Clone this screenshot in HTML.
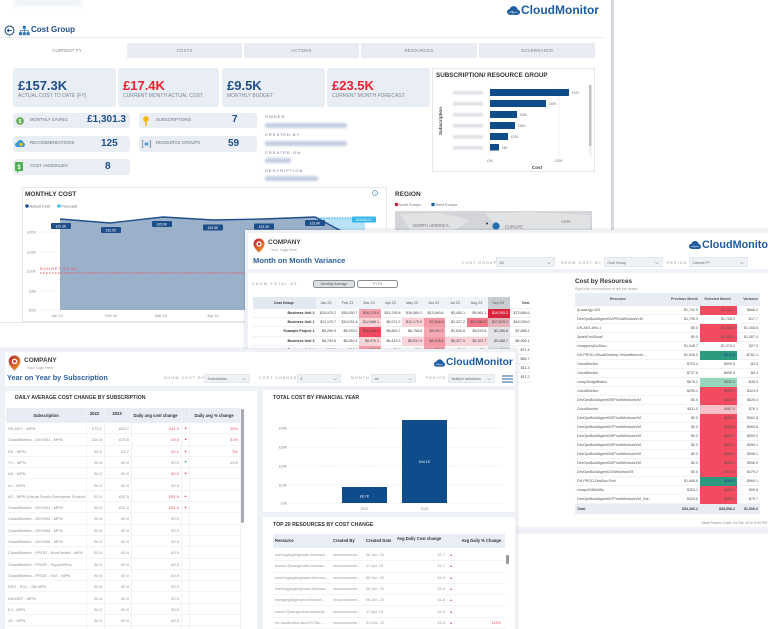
<!DOCTYPE html>
<html><head><meta charset="utf-8">
<style>
*{margin:0;padding:0;box-sizing:border-box}
html,body{width:768px;height:629px;overflow:hidden;background:#fff}
body{position:relative;font-family:"Liberation Sans","DejaVu Sans",sans-serif;color:#333}
.a{position:absolute}
.t{position:absolute;white-space:nowrap;line-height:1}
.card{position:absolute;background:#e9eef5;border-radius:3px}
.tab{position:absolute;top:43px;height:15px;background:#e9edf3;font-size:4.3px;color:#7b8390;text-align:center;line-height:15px;letter-spacing:.2px}
.kv{position:absolute;left:5px;top:11px;font-size:13px;font-weight:bold;line-height:1;white-space:nowrap}
.kl{position:absolute;left:5px;top:26px;font-size:5px;color:#7d8592;line-height:1;white-space:nowrap}
.sl{position:absolute;left:17px;top:5px;font-size:4.3px;color:#6d7480;white-space:nowrap;line-height:1}
.sv{position:absolute;top:2.2px;font-size:10px;font-weight:bold;color:#1f4e8c;line-height:1;white-space:nowrap}
.ol{position:absolute;left:265px;font-size:4px;color:#6d7480;letter-spacing:1px;line-height:1;white-space:nowrap}
.ob{position:absolute;left:265px;height:5px;background:#c3cfe2;border-radius:2px;filter:blur(1px)}
.logo{position:absolute;display:flex;align-items:center;font-weight:bold;color:#1d5c9f;line-height:1;white-space:nowrap}
.logo svg{margin-right:1px;flex:none}
.fl{position:absolute;font-size:3.6px;color:#8a9099;letter-spacing:1.1px;line-height:1;white-space:nowrap}
.dd{position:absolute;height:10px;background:#eef1f5;font-size:3.6px;color:#666;line-height:10px;padding-left:2.5px;white-space:nowrap;border:0.5px solid #e3e6ea}
.dd svg{position:absolute;right:3px;top:3.5px}
.mr{position:absolute;left:253px;width:278px;height:9.2px;display:flex;font-size:3.6px;color:#444;box-shadow:inset 0 -0.6px 0 #e3e6ea}
.mr span{width:21.5px;flex:none;text-align:right;padding-right:1.5px;line-height:9.2px;overflow:hidden;white-space:nowrap}
.mr span:first-child{width:63px;font-weight:bold;color:#333}
.rr{position:absolute;left:575px;width:185px;height:9px;display:flex;font-size:3.6px;color:#555;box-shadow:inset 0 -0.6px 0 #e6e9ed}
.rr span{flex:none;line-height:9px;overflow:hidden;white-space:nowrap;text-align:right;padding-right:2px}
.rr span:nth-child(1){width:86px;text-align:left;padding-left:2px}
.rr span:nth-child(2){width:39px}
.rr span:nth-child(3){width:37px}
.rr span:nth-child(4){width:23px}
.r3{position:absolute;left:6px;width:235px;height:11.3px;display:flex;font-size:4px;color:#8a8f96;box-shadow:inset 0 -0.7px 0 #edf0f3}
.r3 span{flex:none;line-height:11.3px;overflow:hidden;white-space:nowrap;text-align:right;padding-right:2px;border-right:0.6px solid #f0f2f4}
.c1{width:81px;text-align:left!important;padding-left:2px}
.c2{width:18px}.c3{width:27px}.c4{width:50px}.c5{width:8px;text-align:center!important;padding:0!important;font-size:3.4px}.c6{width:51px}
.rd{color:#e4505f}.gn{color:#3aa54a}
.r4{position:absolute;left:273px;width:232px;height:11.3px;display:flex;font-size:3.8px;color:#999;box-shadow:inset 0 -0.7px 0 #eef0f3}
.r4 span{flex:none;line-height:11.3px;overflow:hidden;white-space:nowrap;padding-left:2px}
.d1{width:58px}.d2{width:33px}.d3{width:31px}.d4{width:52px;text-align:right;padding-right:2px}.d5{width:8px;text-align:center;padding:0!important;color:#e4505f;font-size:3.4px}.d6{width:50px;text-align:right;padding-right:4px}
</style></head><body>

<!-- ===================== LAYER 1 : COST GROUP ===================== -->
<div class="a" style="left:14px;top:0;width:68px;height:6px;background:#eef1f4;filter:blur(1.5px)"></div>
<svg class="a" style="left:4px;top:25px" width="26" height="11" viewBox="0 0 26 11">
 <circle cx="5.5" cy="5.5" r="4.4" fill="none" stroke="#1f4e8c" stroke-width="1.1"/>
 <path d="M7.8 5.5H3.4M5 3.8L3.3 5.5L5 7.2" stroke="#1f4e8c" stroke-width="0.9" fill="none"/>
 <rect x="18.8" y="0.8" width="3" height="3" fill="#2a6fb8"/>
 <rect x="15" y="7.2" width="3" height="3" fill="#2a6fb8"/>
 <rect x="18.8" y="7.2" width="3" height="3" fill="#2a6fb8"/>
 <rect x="22.6" y="7.2" width="3" height="3" fill="#2a6fb8"/>
 <path d="M20.3 3.8V5.5M16.5 7.2V5.5H24.1V7.2M20.3 5.5V7.2" stroke="#2a6fb8" stroke-width="0.7" fill="none"/>
</svg>
<div class="t" style="left:31px;top:26px;font-size:8px;font-weight:bold;color:#1f4e8c">Cost Group</div>

<div class="logo" style="left:507px;top:4px;font-size:12px">
 <svg width="13" height="9" viewBox="0 0 12 8"><path d="M3 8C1.3 8 0 6.8 0 5.3 0 3.9 1.1 2.8 2.5 2.7 3 1.1 4.4 0 6.1 0c1.9 0 3.4 1.3 3.7 3.1C11 3.3 12 4.3 12 5.6 12 6.9 10.9 8 9.5 8z" fill="#1d5c9f"/><path d="M2 5.5h2l.7-1 .8 2 .7-1h3.5" stroke="#fff" stroke-width=".5" fill="none"/></svg>CloudMonitor</div>

<div class="a" style="left:0;top:37px;width:604px;height:0;border-top:1px dotted #d5dae1"></div>

<div class="tab" style="left:9px;width:116px;background:#fff">CURRENT FY</div>
<div class="tab" style="left:127px;width:115px">COSTS</div>
<div class="tab" style="left:244px;width:115px">ACTIONS</div>
<div class="tab" style="left:361px;width:116px">RESOURCES</div>
<div class="tab" style="left:479px;width:116px">GOVERNANCE</div>

<!-- KPI cards -->
<div class="card" style="left:13px;top:68px;width:103px;height:39px"><div class="kv" style="color:#1f4e8c">£157.3K</div><div class="kl">ACTUAL COST TO DATE (FY)</div></div>
<div class="card" style="left:118px;top:68px;width:101px;height:39px"><div class="kv" style="color:#e8232e">£17.4K</div><div class="kl">CURRENT MONTH ACTUAL COST</div></div>
<div class="card" style="left:222px;top:68px;width:103px;height:39px"><div class="kv" style="color:#1f4e8c">£9.5K</div><div class="kl">MONTHLY BUDGET</div></div>
<div class="card" style="left:327px;top:68px;width:103px;height:39px;overflow:hidden"><div class="kv" style="color:#e8232e">£23.5K</div><div class="kl">CURRENT MONTH FORECAST</div></div>

<!-- small cards -->
<div class="card" style="left:13px;top:113px;width:117px;height:15px">
 <svg class="a" style="left:3px;top:3.5px" width="8" height="8" viewBox="0 0 8 8"><circle cx="4" cy="4" r="3.8" fill="#5aa64a"/><text x="4" y="6" font-size="5.5" font-weight="bold" fill="#fff" text-anchor="middle" font-family="Liberation Sans">$</text></svg>
 <div class="sl">MONTHLY SAVING</div><div class="sv" style="right:4px">£1,301.3</div></div>
<div class="card" style="left:139px;top:113px;width:118px;height:15px">
 <svg class="a" style="left:4px;top:2.5px" width="6" height="10" viewBox="0 0 6 10"><circle cx="3" cy="3" r="2.8" fill="#f2b705"/><rect x="2.2" y="5" width="1.6" height="5" fill="#f2b705"/></svg>
 <div class="sl">SUBSCRIPTIONS</div><div class="sv" style="left:93px">7</div></div>
<div class="card" style="left:13px;top:136px;width:117px;height:16px">
 <svg class="a" style="left:2px;top:4px" width="10" height="8" viewBox="0 0 10 8"><path d="M2.5 7C1.1 7 0 6 0 4.7 0 3.5 1 2.5 2.2 2.4 2.6 1 3.8 0 5.3 0 7 0 8.3 1.2 8.5 2.8 9.4 3 10 3.9 10 4.9 10 6 9.1 7 7.9 7z" fill="#3a9ad9"/><circle cx="6" cy="4.5" r="1.6" fill="#f2c200"/></svg>
 <div class="sl">RECOMMENDATIONS</div><div class="sv" style="left:88px;top:2.7px">125</div></div>
<div class="card" style="left:139px;top:136px;width:118px;height:16px">
 <svg class="a" style="left:3px;top:4px" width="9" height="8" viewBox="0 0 9 8"><path d="M1.5 0.5H0.5V7.5H1.5M7.5 0.5H8.5V7.5H7.5" stroke="#7a8699" stroke-width="0.8" fill="none"/><rect x="2.6" y="2.5" width="3.8" height="3" fill="#4aa3df"/></svg>
 <div class="sl">RESOURCE GROUPS</div><div class="sv" style="left:89px;top:2.7px">59</div></div>
<div class="card" style="left:13px;top:159px;width:117px;height:16px">
 <svg class="a" style="left:2px;top:2.5px" width="8" height="11" viewBox="0 0 8 11"><rect x="0" y="0" width="8" height="9" rx="1" fill="#4caf50"/><path d="M2 9L2 11L4 9Z" fill="#4caf50"/><text x="4" y="7" font-size="6" font-weight="bold" fill="#fff" text-anchor="middle" font-family="Liberation Sans">$</text></svg>
 <div class="sl">COST ANOMALIES</div><div class="sv" style="left:92px;top:2.7px">8</div></div>

<!-- owner -->
<div class="ol" style="top:115.3px">OWNER</div>
<div class="ob" style="top:122.5px;width:82px"></div>
<div class="ol" style="top:133.3px">CREATED BY</div>
<div class="ob" style="top:140.5px;width:82px"></div>
<div class="ol" style="top:151.3px">CREATED ON</div>
<div class="ob" style="top:158px;width:26px"></div>
<div class="ol" style="top:169.3px">DESCRIPTION</div>
<div class="ob" style="top:176px;width:53px"></div>

<!-- layer 1 charts -->
<svg class="a" style="left:0;top:0" width="612" height="325" viewBox="0 0 612 325" font-family="Liberation Sans, sans-serif">
 <!-- subscription chart -->
 <rect x="432.5" y="68.5" width="162" height="103" fill="#fff" stroke="#dfe2e6" stroke-width="0.8"/>
 <text x="436" y="77" font-size="6.3" font-weight="bold" fill="#333">SUBSCRIPTION/ RESOURCE GROUP</text>
 <text transform="translate(442 121) rotate(-90)" font-size="4.6" font-weight="bold" fill="#444" text-anchor="middle">Subscription</text>
 <g fill="#dde1e6" style="filter:blur(0.8px)">
  <rect x="453" y="91" width="30" height="3.5"/><rect x="453" y="102" width="30" height="3.5"/><rect x="453" y="113" width="30" height="3.5"/>
  <rect x="453" y="124" width="30" height="3.5"/><rect x="453" y="135" width="30" height="3.5"/><rect x="453" y="146" width="30" height="3.5"/>
 </g>
 <line x1="490" y1="86" x2="490" y2="155" stroke="#ccc" stroke-width="0.5" stroke-dasharray="1 1"/>
 <line x1="559" y1="86" x2="559" y2="155" stroke="#ccc" stroke-width="0.5" stroke-dasharray="1 1"/>
 <g fill="#0f4c8a">
  <rect x="490" y="89" width="79" height="7"/><rect x="490" y="100" width="56" height="7"/><rect x="490" y="111" width="27" height="7"/>
  <rect x="490" y="122" width="25" height="7"/><rect x="490" y="133" width="18" height="7"/><rect x="490" y="144" width="9" height="6.5"/>
 </g>
 <g font-size="3.2" fill="#777">
  <text x="572" y="94">£57K</text><text x="549" y="105">£40K</text><text x="520" y="116">£20K</text>
  <text x="518" y="127">£18K</text><text x="511" y="138">£13K</text><text x="502" y="149">£6K</text>
  <text x="490" y="162" text-anchor="middle">£0K</text><text x="559" y="162" text-anchor="middle">£50K</text>
 </g>
 <text x="537" y="169" font-size="4.6" font-weight="bold" fill="#444" text-anchor="middle">Cost</text>
 <rect x="589" y="85" width="2.5" height="71" fill="#eef0f2"/>
 <rect x="589" y="85" width="2.5" height="61" fill="#bcc0c5"/>

 <!-- monthly cost card -->
 <rect x="22.5" y="187.5" width="364" height="134" fill="#fff" stroke="#e1e4e8" stroke-width="0.8"/>
 <text x="25" y="196" font-size="6.5" font-weight="bold" fill="#333">MONTHLY COST</text>
 <circle cx="375" cy="193" r="2.4" fill="none" stroke="#3a78c0" stroke-width="0.6"/>
 <text x="375" y="194.6" font-size="3.5" fill="#3a78c0" text-anchor="middle">i</text>
 <circle cx="27" cy="206" r="1.8" fill="#1f4e8c"/><text x="29.5" y="207.5" font-size="4" fill="#666">Actual Cost</text>
 <circle cx="59" cy="206" r="1.8" fill="#3fc0f0"/><text x="61.5" y="207.5" font-size="4" fill="#666">Forecast</text>
 <g stroke="#c5c9cf" stroke-width="0.6" stroke-dasharray="1 1.5">
  <line x1="40" y1="232" x2="382" y2="232"/><line x1="40" y1="252" x2="382" y2="252"/>
  <line x1="40" y1="291" x2="382" y2="291"/><line x1="40" y1="310" x2="382" y2="310"/>
 </g>
 <g font-size="3.8" fill="#888" text-anchor="end">
  <text x="36" y="233.5">£20K</text><text x="36" y="253.5">£15K</text><text x="36" y="272.5">£10K</text><text x="36" y="292.5">£5K</text><text x="36" y="311.5">£0K</text>
 </g>
 <rect x="315" y="218" width="50" height="92" fill="#b9e2f7"/>
 <line x1="315" y1="218" x2="356" y2="218" stroke="#3fb6ec" stroke-width="1.2" stroke-dasharray="1.5 1.2"/>
 <polygon points="60,219 110,223 163,217 213,220 263,219 315,217 345,233 345,310 60,310" fill="#9bb1ca"/>
 <polyline points="60,219 110,223 163,217 213,220 263,219 315,217 345,233" fill="none" stroke="#1f4e8c" stroke-width="1.4"/>
 <line x1="40" y1="273" x2="385" y2="273" stroke="#e8505f" stroke-width="1" stroke-dasharray="1.5 1.5"/>
 <text x="40" y="270" font-size="4" fill="#e8505f" letter-spacing="0.8">BUDGET £9.5K</text>
 <g font-size="3.8" fill="#888" text-anchor="middle">
  <text x="57" y="317">Jan 24</text><text x="111" y="317">Feb 24</text><text x="161" y="317">Mar 24</text><text x="213" y="317">Apr 24</text>
 </g>
 <g fill="#1d4f8a">
  <rect x="51" y="223" width="20" height="6" rx="1"/><rect x="101" y="227" width="20" height="6" rx="1"/><rect x="152" y="221" width="20" height="6" rx="1"/>
  <rect x="203" y="224.5" width="20" height="6" rx="1"/><rect x="254" y="223.5" width="20" height="6" rx="1"/><rect x="305" y="220" width="20" height="6" rx="1"/>
 </g>
 <rect x="352" y="216.5" width="24" height="6" rx="1" fill="#3ab8ee"/>
 <g font-size="3.3" fill="#fff" text-anchor="middle">
  <text x="61" y="227.3">£22.3K</text><text x="111" y="231.3">£22.5K</text><text x="162" y="225.3">£23.9K</text>
  <text x="213" y="228.8">£22.8K</text><text x="264" y="227.8">£23.3K</text><text x="315" y="224.3">£23.9K</text>
  <text x="364" y="220.8">£24.6/17.1</text>
 </g>

 <!-- region -->
 <text x="395" y="196" font-size="6.5" font-weight="bold" fill="#333">REGION</text>
 <circle cx="396.5" cy="204.5" r="1.8" fill="#c0283a"/><text x="398.8" y="206" font-size="3.8" fill="#777">North Europe</text>
 <circle cx="433" cy="204.5" r="1.8" fill="#1f5fa0"/><text x="435.5" y="206" font-size="3.8" fill="#777">West Europe</text>
 <rect x="395" y="211" width="197" height="25" fill="#d3d5d8"/>
 <path d="M400 214 L440 213 L470 220 L455 230 L410 230 Z" fill="#e1e2e4"/>
 <path d="M485 213 L530 212 L590 215 L590 230 L500 230 Z" fill="#e1e2e4"/>
 <text x="413" y="227" font-size="4.3" fill="#777">NORTH AMERICA</text>
 <text x="505" y="228.5" font-size="4.3" fill="#777">EUROPE</text>
 <text x="561" y="223" font-size="4.3" fill="#777">ASIA</text>
 <circle cx="496" cy="226" r="3.6" fill="#1f6fb3"/>
 <circle cx="487" cy="223.5" r="1" fill="#333"/>

 <line x1="0" y1="322.5" x2="612" y2="322.5" stroke="#e3e6ea" stroke-width="1"/>
</svg>
<div class="a" style="left:611px;top:0;width:3px;height:231px;background:#d6d9dd"></div>

<!-- ===================== LAYER 2 : MONTH ON MONTH ===================== -->
<div class="a" style="left:245px;top:230px;width:523px;height:302px;background:#eef1f5;box-shadow:0 0 3px rgba(0,0,0,.18)"></div>
<div class="a" style="left:248px;top:233px;width:520px;height:36px;background:#fff"></div>
<div class="a" style="left:248px;top:273px;width:520px;height:254px;background:#fff"></div>

<svg class="a" style="left:253px;top:238px" width="12" height="15" viewBox="0 0 12 15"><defs><linearGradient id="pg1" x1="0" y1="0" x2="1" y2="1"><stop offset="0" stop-color="#b81d3a"/><stop offset="1" stop-color="#f4a020"/></linearGradient></defs><path d="M6 0.5C2.9 0.5 0.5 2.9 0.5 6c0 3.5 4 7.3 5.5 8.5 1.5-1.2 5.5-5 5.5-8.5C11.5 2.9 9.1 0.5 6 0.5z" fill="url(#pg1)"/><circle cx="6" cy="6" r="2.6" fill="#fff"/><circle cx="6" cy="6" r="1.3" fill="#c52a3a"/></svg>
<div class="t" style="left:268px;top:240px;font-size:6.5px;font-weight:bold;color:#404040">COMPANY</div>
<div class="t" style="left:271px;top:249px;font-size:3.8px;color:#999">Your Logo here</div>
<div class="t" style="left:253px;top:257px;font-size:7.6px;font-weight:bold;color:#2b5f9c">Month on Month Variance</div>

<div class="fl" style="left:462px;top:261.5px">COST GROUP</div>
<div class="dd" style="left:496px;top:257px;width:59px">All<svg width="4" height="3"><path d="M0.3 0.3L2 2L3.7 0.3" stroke="#888" stroke-width=".5" fill="none"/></svg></div>
<div class="fl" style="left:561px;top:261.5px">SHOW COST BY</div>
<div class="dd" style="left:604px;top:257px;width:59px">Cost Group<svg width="4" height="3"><path d="M0.3 0.3L2 2L3.7 0.3" stroke="#888" stroke-width=".5" fill="none"/></svg></div>
<div class="fl" style="left:667px;top:261.5px">PERIOD</div>
<div class="dd" style="left:689px;top:257px;width:59px">Current FY<svg width="4" height="3"><path d="M0.3 0.3L2 2L3.7 0.3" stroke="#888" stroke-width=".5" fill="none"/></svg></div>

<div class="logo" style="left:689px;top:240px;font-size:10.8px">
 <svg width="12" height="8" viewBox="0 0 12 8"><path d="M3 8C1.3 8 0 6.8 0 5.3 0 3.9 1.1 2.8 2.5 2.7 3 1.1 4.4 0 6.1 0c1.9 0 3.4 1.3 3.7 3.1C11 3.3 12 4.3 12 5.6 12 6.9 10.9 8 9.5 8z" fill="#1d5c9f"/><path d="M2 5.5h2l.7-1 .8 2 .7-1h3.5" stroke="#fff" stroke-width=".5" fill="none"/></svg>CloudMonitor</div>

<div class="fl" style="left:252px;top:282.5px;letter-spacing:1.3px">SHOW TOTAL AS</div>
<div class="a" style="left:313px;top:280px;width:42px;height:8px;background:#dcdfe3;border:0.7px solid #8a8f96;border-radius:2.5px;font-size:3.6px;color:#555;text-align:center;line-height:6.6px">Monthly Average</div>
<div class="a" style="left:357px;top:280px;width:41px;height:8px;background:#fff;border:0.7px solid #8a8f96;border-radius:2.5px;font-size:3.6px;color:#777;text-align:center;line-height:6.6px">FYTD</div>

<!-- month table -->
<div class="mr" style="top:297px;height:12px;font-weight:bold;color:#555">
 <span style="text-align:center;background:#e3e9f2;line-height:12px">Cost Group</span>
 <span style="text-align:center;background:#eff2f6;line-height:12px;font-weight:normal">Jan 23</span>
 <span style="text-align:center;background:#eff2f6;line-height:12px;font-weight:normal">Feb 23</span>
 <span style="text-align:center;background:#eff2f6;line-height:12px;font-weight:normal">Mar 23</span>
 <span style="text-align:center;background:#eff2f6;line-height:12px;font-weight:normal">Apr 23</span>
 <span style="text-align:center;background:#eff2f6;line-height:12px;font-weight:normal">May 23</span>
 <span style="text-align:center;background:#eff2f6;line-height:12px;font-weight:normal">Jun 23</span>
 <span style="text-align:center;background:#eff2f6;line-height:12px;font-weight:normal">Jul 23</span>
 <span style="text-align:center;background:#eff2f6;line-height:12px;font-weight:normal">Aug 23</span>
 <span style="text-align:center;background:#c9cdd2;line-height:12px;font-weight:normal">Sep 23</span>
 <span style="line-height:12px">Total</span>
</div>
<div class="mr" style="top:309px"><span>Business Unit 2</span><span>$15,970.2</span><span>$16,930.7</span><span style="background:#f5a3ae">$16,170.0</span><span>$15,790.8</span><span>$16,069.2</span><span>$13,949.6</span><span>$5,450.1</span><span>$5,961.1</span><span style="background:#d9263e;color:#fff">$19,000.2</span><span>$73,656.6</span></div>
<div class="mr" style="top:318.2px"><span>Business Unit 1</span><span>$11,170.7</span><span>$10,031.6</span><span style="background:#fbd3d8">$12,688.1</span><span>$8,971.2</span><span style="background:#fbd3d8">$10,175.9</span><span style="background:#f49aa6">$7,816.8</span><span>$2,327.2</span><span style="background:#f27a8a">$10,263.2</span><span style="background:#e5b3ba">$17,878.2</span><span>$18,299.0</span></div>
<div class="mr" style="top:327.4px"><span>Example Project 1</span><span>$8,269.9</span><span>$6,976.2</span><span style="background:#ef4b60">$10,154.0</span><span>$6,852.7</span><span>$6,756.8</span><span style="background:#f6a9b2">$9,920.7</span><span>$1,530.6</span><span>$5,676.6</span><span style="background:#e2e4e7">$3,266.8</span><span>$7,698.2</span></div>
<div class="mr" style="top:336.6px"><span>Business Unit 3</span><span>$6,793.6</span><span>$6,040.4</span><span style="background:#fbd3d8">$6,976.1</span><span>$6,415.3</span><span style="background:#fbd3d8">$6,531.9</span><span style="background:#f49aa6">$8,105.6</span><span style="background:#fbd3d8">$6,427.9</span><span style="background:#fbd3d8">$5,357.7</span><span style="background:#e2e4e7">$5,088.7</span><span>$6,905.1</span></div>
<div class="mr" style="top:345.8px"><span>Business Unit 4</span><span>$12.0</span><span>$10.4</span><span style="background:#f5a3ae">$18.2</span><span>$9.1</span><span>$8.4</span><span style="background:#f5a3ae">$14.3</span><span>$6.2</span><span>$5.1</span><span style="background:#e2e4e7">$4.0</span><span>$71.4</span></div>
<div class="mr" style="top:355px"><span>Project 2</span><span>$9.0</span><span>$8.4</span><span>$7.2</span><span>$8.1</span><span>$6.0</span><span>$7.4</span><span>$5.9</span><span>$6.1</span><span style="background:#e2e4e7">$3.2</span><span>$65.7</span></div>
<div class="mr" style="top:364.2px"><span>Project 3</span><span>$1.2</span><span>$1.1</span><span>$1.4</span><span>$1.3</span><span>$1.2</span><span>$1.0</span><span>$1.3</span><span>$1.1</span><span style="background:#e2e4e7">$0.9</span><span>$11.3</span></div>
<div class="mr" style="top:373.4px"><span>Project 4</span><span>$1.2</span><span>$1.1</span><span>$1.4</span><span>$1.3</span><span>$1.2</span><span>$1.0</span><span>$1.3</span><span>$1.1</span><span style="background:#e2e4e7">$0.9</span><span>$11.2</span></div>

<!-- resources table -->
<div class="t" style="left:575px;top:279px;font-size:6.3px;font-weight:bold;color:#333">Cost by Resources</div>
<div class="t" style="left:575px;top:288px;font-size:3.3px;color:#999">Right click on a resource to drill into details</div>
<div class="rr" style="top:293px;height:13px;background:#e8edf4;font-weight:bold;color:#555">
 <span style="text-align:center;line-height:13px">Resource</span><span style="line-height:13px">Previous Month</span><span style="line-height:13px;text-align:center">Selected Month</span><span style="line-height:13px">Variance</span></div>
<div class="rr" style="top:306px"><span>ip-aaa-tgp-002</span><span>$1,702.9</span><span style="background:#f24a5e">$2,733.2</span><span>$668.2</span></div>
<div class="rr" style="top:315px"><span>DevOpsBuildAgent00APRodWindowsVM</span><span>$1,709.9</span><span>$1,708.2</span><span>-$17.7</span></div>
<div class="rr" style="top:324px"><span>DH-AKS-Win-1</span><span>$0.0</span><span style="background:#f24a5e">$1,268.8</span><span>$1,268.8</span></div>
<div class="rr" style="top:333px"><span>SparkPoolSmall</span><span>$0.0</span><span style="background:#f24a5e">$1,087.4</span><span>$1,087.4</span></div>
<div class="rr" style="top:342px"><span>cmapycnoj2o3iksu</span><span>$1,048.7</span><span>$1,076.2</span><span>$27.5</span></div>
<div class="rr" style="top:351px"><span>DH-PROD-VirtualDesktop-VirtualNetwork-...</span><span>$1,638.9</span><span style="background:#2c9a7f;color:#1f3f8c">$876.8</span><span>-$762.1</span></div>
<div class="rr" style="top:360px"><span>CloudMonitor</span><span>$703.4</span><span>$699.5</span><span>-$3.9</span></div>
<div class="rr" style="top:369px"><span>CloudMonitor</span><span>$707.8</span><span>$698.5</span><span>-$9.4</span></div>
<div class="rr" style="top:378px"><span>cmay33otgoifbalsu</span><span>$678.2</span><span style="background:#98d6bb">$639.3</span><span>-$38.9</span></div>
<div class="rr" style="top:387px"><span>CloudMonitor</span><span>$295.1</span><span style="background:#f24a5e">$620.0</span><span>$324.9</span></div>
<div class="rr" style="top:396px"><span>DevOpsBuildAgent005ProdWindowsVM</span><span>$0.0</span><span style="background:#f24a5e">$626.4</span><span>$626.4</span></div>
<div class="rr" style="top:405px"><span>CloudMonitor</span><span>$411.0</span><span style="background:#f9c2c9">$487.3</span><span>$76.3</span></div>
<div class="rr" style="top:414px"><span>DevOpsBuildAgent003ProdWindowsVM</span><span>$0.0</span><span style="background:#f24a5e">$562.8</span><span>$562.8</span></div>
<div class="rr" style="top:423px"><span>DevOpsBuildAgent007ProdWindowsVM</span><span>$0.0</span><span style="background:#f24a5e">$560.8</span><span>$560.8</span></div>
<div class="rr" style="top:432px"><span>DevOpsBuildAgent008ProdWindowsVM</span><span>$0.0</span><span style="background:#f24a5e">$559.2</span><span>$559.2</span></div>
<div class="rr" style="top:441px"><span>DevOpsBuildAgent009ProdWindowsVM</span><span>$0.0</span><span style="background:#f24a5e">$559.1</span><span>$559.1</span></div>
<div class="rr" style="top:450px"><span>DevOpsBuildAgent004ProdWindowsVM</span><span>$0.0</span><span style="background:#f24a5e">$558.1</span><span>$558.1</span></div>
<div class="rr" style="top:459px"><span>DevOpsBuildAgent002ProdWindowsVM</span><span>$0.0</span><span style="background:#f24a5e">$556.9</span><span>$556.9</span></div>
<div class="rr" style="top:468px"><span>DevOpsBuildAgent010WindowsVM</span><span>$0.0</span><span style="background:#f24a5e">$479.2</span><span>$479.2</span></div>
<div class="rr" style="top:477px"><span>DH-PROD-DevBox-Pool</span><span>$1,668.6</span><span style="background:#2c9a7f;color:#1f3f8c">$699.5</span><span>-$969.1</span></div>
<div class="rr" style="top:486px"><span>cmapo03i6hhi3lu</span><span>$353.1</span><span style="background:#f24a5e">$452.6</span><span>$99.6</span></div>
<div class="rr" style="top:495px"><span>DevOpsBuildAgent007ProdWindowsVM_Dat...</span><span>$325.6</span><span style="background:#f24a5e">$405.2</span><span>$79.7</span></div>
<div class="rr" style="top:504px;height:10px;background:#e8edf4;font-weight:bold;color:#444"><span style="line-height:10px">Total</span><span style="line-height:10px">$33,466.2</span><span style="line-height:10px">$35,598.2</span><span style="line-height:10px">$1,906.0</span></div>
<div class="t" style="right:1px;top:522px;font-size:3.5px;color:#888">Most Recent Costs: 04 Oct. 23 in 5:00 PM</div>

<!-- ===================== LAYER 3 : YEAR ON YEAR ===================== -->
<div class="a" style="left:0;top:349px;width:517px;height:280px;background:#eef1f5;box-shadow:0 0 3px rgba(0,0,0,.18)"></div>
<div class="a" style="left:5px;top:352px;width:510px;height:34px;background:#fff"></div>
<div class="a" style="left:5px;top:391px;width:252px;height:240px;background:#fff"></div>
<div class="a" style="left:263px;top:390px;width:252px;height:122px;background:#fff"></div>
<div class="a" style="left:263px;top:517px;width:252px;height:115px;background:#fff"></div>

<svg class="a" style="left:8px;top:355px" width="13" height="16" viewBox="0 0 12 15"><defs><linearGradient id="pg2" x1="0" y1="0" x2="1" y2="1"><stop offset="0" stop-color="#b81d3a"/><stop offset="1" stop-color="#f4a020"/></linearGradient></defs><path d="M6 0.5C2.9 0.5 0.5 2.9 0.5 6c0 3.5 4 7.3 5.5 8.5 1.5-1.2 5.5-5 5.5-8.5C11.5 2.9 9.1 0.5 6 0.5z" fill="url(#pg2)"/><circle cx="6" cy="6" r="2.6" fill="#fff"/><circle cx="6" cy="6" r="1.3" fill="#c52a3a"/></svg>
<div class="t" style="left:24px;top:357.5px;font-size:6.5px;font-weight:bold;color:#404040">COMPANY</div>
<div class="t" style="left:27px;top:366.5px;font-size:3.8px;color:#999">Your Logo Here</div>
<div class="t" style="left:7px;top:374px;font-size:7.3px;font-weight:bold;color:#2b5f9c">Year on Year by Subscription</div>

<div class="fl" style="left:164px;top:376.5px">SHOW COST BY</div>
<div class="dd" style="left:204px;top:374px;width:46px;height:9px;line-height:9px">Subscription<svg width="4" height="3" style="top:3px"><path d="M0.3 0.3L2 2L3.7 0.3" stroke="#888" stroke-width=".5" fill="none"/></svg></div>
<div class="fl" style="left:259px;top:376.5px">COST CHANGE</div>
<div class="dd" style="left:297px;top:374px;width:44px;height:9px;line-height:9px">£<svg width="4" height="3" style="top:3px"><path d="M0.3 0.3L2 2L3.7 0.3" stroke="#888" stroke-width=".5" fill="none"/></svg></div>
<div class="fl" style="left:351px;top:376.5px">MONTH</div>
<div class="dd" style="left:371px;top:374px;width:45px;height:9px;line-height:9px">All<svg width="4" height="3" style="top:3px"><path d="M0.3 0.3L2 2L3.7 0.3" stroke="#888" stroke-width=".5" fill="none"/></svg></div>
<div class="fl" style="left:426px;top:376.5px">PERIOD</div>
<div class="dd" style="left:448px;top:374px;width:47px;height:9px;line-height:9px">Multiple selections<svg width="4" height="3" style="top:3px"><path d="M0.3 0.3L2 2L3.7 0.3" stroke="#888" stroke-width=".5" fill="none"/></svg></div>
<svg class="a" style="left:502px;top:375px" width="11" height="8" viewBox="0 0 11 8"><path d="M0 1H11M0 4H11M0 7H11" stroke="#2b5f9c" stroke-width="1"/></svg>

<div class="logo" style="left:434px;top:357.5px;font-size:10.3px">
 <svg width="11" height="8" viewBox="0 0 12 8"><path d="M3 8C1.3 8 0 6.8 0 5.3 0 3.9 1.1 2.8 2.5 2.7 3 1.1 4.4 0 6.1 0c1.9 0 3.4 1.3 3.7 3.1C11 3.3 12 4.3 12 5.6 12 6.9 10.9 8 9.5 8z" fill="#1d5c9f"/><path d="M2 5.5h2l.7-1 .8 2 .7-1h3.5" stroke="#fff" stroke-width=".5" fill="none"/></svg>CloudMonitor</div>

<!-- left table -->
<div class="t" style="left:15px;top:396px;font-size:5.2px;font-weight:bold;color:#333">DAILY AVERAGE COST CHANGE BY SUBSCRIPTION</div>
<div class="r3" style="top:408px;height:15px;background:#e8edf5;color:#333;font-weight:bold;font-size:4.2px">
 <span class="c1" style="line-height:15px;text-align:center!important">Subscription</span>
 <span class="c2" style="line-height:11px;text-align:center">2022</span>
 <span class="c3" style="line-height:11px;text-align:center">2023</span>
 <span class="c4" style="line-height:15px;text-align:center">Daily avg cost change</span>
 <span class="c5" style="line-height:15px"></span>
 <span class="c6" style="line-height:15px;text-align:center">Daily avg % change</span>
</div>
<div class="r3" style="top:423px"><span class="c1">SK-DEV - MPN</span><span class="c2">£73.1</span><span class="c3">£63.7</span><span class="c4 rd">£11.4</span><span class="c5 rd">▲</span><span class="c6 rd">16%</span></div>
<div class="r3" style="top:434.3px"><span class="c1">CloudMonitor - DEV001 - MPN</span><span class="c2">£20.5</span><span class="c3">£29.8</span><span class="c4 rd">£9.4</span><span class="c5 rd">▲</span><span class="c6 rd">31%</span></div>
<div class="r3" style="top:445.6px"><span class="c1">KS - MPN</span><span class="c2">£2.4</span><span class="c3">£3.7</span><span class="c4 rd">£0.1</span><span class="c5 rd">▲</span><span class="c6 rd">3%</span></div>
<div class="r3" style="top:456.9px"><span class="c1">YY - MPN</span><span class="c2">£0.0</span><span class="c3">£0.0</span><span class="c4">£0.0</span><span class="c5 gn">▼</span><span class="c6">-11%</span></div>
<div class="r3" style="top:468.2px"><span class="c1">AA - MPN</span><span class="c2">£0.0</span><span class="c3">£0.0</span><span class="c4 rd">£0.0</span><span class="c5 rd">▲</span><span class="c6"></span></div>
<div class="r3" style="top:479.5px"><span class="c1">AJ - MPN</span><span class="c2">£0.0</span><span class="c3">£0.0</span><span class="c4">£0.0</span><span class="c5"></span><span class="c6"></span></div>
<div class="r3" style="top:490.8px"><span class="c1">AZ - MPN (Visual Studio Enterprise Subscri...</span><span class="c2">£0.0</span><span class="c3">£51.5</span><span class="c4 rd">£51.5</span><span class="c5 rd">▲</span><span class="c6"></span></div>
<div class="r3" style="top:502.1px"><span class="c1">CloudMonitor - DEV001 - MPN</span><span class="c2">£0.0</span><span class="c3">£51.0</span><span class="c4 rd">£51.0</span><span class="c5 rd">▲</span><span class="c6"></span></div>
<div class="r3" style="top:513.4px"><span class="c1">CloudMonitor - DEV002 - MPN</span><span class="c2">£0.0</span><span class="c3">£0.0</span><span class="c4">£0.0</span><span class="c5"></span><span class="c6"></span></div>
<div class="r3" style="top:524.7px"><span class="c1">CloudMonitor - DEV004 - MPN</span><span class="c2">£0.0</span><span class="c3">£0.0</span><span class="c4">£0.0</span><span class="c5"></span><span class="c6"></span></div>
<div class="r3" style="top:536px"><span class="c1">CloudMonitor - DEV005 - MPN</span><span class="c2">£0.0</span><span class="c3">£0.0</span><span class="c4">£0.0</span><span class="c5"></span><span class="c6"></span></div>
<div class="r3" style="top:547.3px"><span class="c1">CloudMonitor - PROD - NonCredits - MPN</span><span class="c2">£0.0</span><span class="c3">£0.0</span><span class="c4">£0.0</span><span class="c5"></span><span class="c6"></span></div>
<div class="r3" style="top:558.6px"><span class="c1">CloudMonitor - PROD - SupportRes</span><span class="c2">£0.0</span><span class="c3">£0.0</span><span class="c4">£0.0</span><span class="c5"></span><span class="c6"></span></div>
<div class="r3" style="top:569.9px"><span class="c1">CloudMonitor - PROD - SAT - MPN</span><span class="c2">£0.0</span><span class="c3">£0.0</span><span class="c4">£0.0</span><span class="c5"></span><span class="c6"></span></div>
<div class="r3" style="top:581.2px"><span class="c1">DEV - EGL - S8 MPN</span><span class="c2">£0.0</span><span class="c3">£0.0</span><span class="c4">£0.0</span><span class="c5"></span><span class="c6"></span></div>
<div class="r3" style="top:592.5px"><span class="c1">DevOEF - MPN</span><span class="c2">£0.0</span><span class="c3">£0.0</span><span class="c4">£0.0</span><span class="c5"></span><span class="c6"></span></div>
<div class="r3" style="top:603.8px"><span class="c1">EJ - MPN</span><span class="c2">£0.0</span><span class="c3">£0.0</span><span class="c4">£0.0</span><span class="c5"></span><span class="c6"></span></div>
<div class="r3" style="top:615.1px"><span class="c1">JH - MPN</span><span class="c2">£0.0</span><span class="c3">£0.0</span><span class="c4">£0.0</span><span class="c5"></span><span class="c6"></span></div>
<div class="r3" style="top:626.4px"><span class="c1">KL - MPN</span><span class="c2">£0.0</span><span class="c3">£0.0</span><span class="c4">£0.0</span><span class="c5"></span><span class="c6"></span></div>
<div class="a" style="left:241px;top:409px;width:3px;height:114px;background:#a5aab0;border-radius:1.5px"></div>

<!-- total cost by FY -->
<div class="t" style="left:273px;top:396px;font-size:5.2px;font-weight:bold;color:#333">TOTAL COST BY FINANCIAL YEAR</div>
<svg class="a" style="left:263px;top:390px" width="252" height="122" viewBox="263 390 252 122" font-family="Liberation Sans, sans-serif">
 <g stroke="#d0d3d7" stroke-width="0.6" stroke-dasharray="1 1.5">
  <line x1="290" y1="428" x2="505" y2="428"/><line x1="290" y1="447" x2="505" y2="447"/><line x1="290" y1="466" x2="505" y2="466"/><line x1="290" y1="485" x2="505" y2="485"/><line x1="290" y1="503" x2="505" y2="503"/>
 </g>
 <g font-size="3.5" fill="#888" text-anchor="end">
  <text x="287" y="429.5">£40K</text><text x="287" y="448.5">£30K</text><text x="287" y="467.5">£20K</text><text x="287" y="486.5">£10K</text><text x="287" y="504.5">£0K</text>
 </g>
 <rect x="342" y="487" width="45" height="16" fill="#0f4c8c"/>
 <rect x="402" y="420" width="45" height="83" fill="#0f4c8c"/>
 <text x="364.5" y="497.5" font-size="3.5" fill="#fff" text-anchor="middle">£8.7K</text>
 <text x="424.5" y="463" font-size="3.5" fill="#fff" text-anchor="middle">£44.1K</text>
 <text x="364.5" y="510" font-size="3.5" fill="#888" text-anchor="middle">2022</text>
 <text x="424.5" y="510" font-size="3.5" fill="#888" text-anchor="middle">2023</text>
</svg>

<!-- top 20 -->
<div class="t" style="left:273px;top:522.5px;font-size:5.2px;font-weight:bold;color:#333">TOP 20 RESOURCES BY COST CHANGE</div>
<div class="r4" style="top:534px;height:14px;background:#e9eef6;color:#333;font-weight:bold;font-size:4.1px">
 <span class="d1" style="line-height:14px">Resource</span><span class="d2" style="line-height:14px">Created By</span><span class="d3" style="line-height:14px">Created Date</span><span class="d4" style="line-height:10px;text-align:left;overflow:visible">Avg Daily Cost change</span><span class="d5"></span><span class="d6" style="line-height:14px">Avg Daily % Change</span>
</div>
<div class="r4" style="top:550px"><span class="d1">marioygegkldgeoam-linkrosof...</span><span class="d2">resourceowne...</span><span class="d3">06 Jun. 23</span><span class="d4">£1.7</span><span class="d5">▲</span><span class="d6"></span></div>
<div class="r4" style="top:561.3px"><span class="d1">acrioev7jsamgeosta-linkrosa...</span><span class="d2">resourceowne...</span><span class="d3">17 Apr. 23</span><span class="d4">£1.7</span><span class="d5">▲</span><span class="d6"></span></div>
<div class="r4" style="top:572.6px"><span class="d1">mcehoygegkldgeoam-linkroso...</span><span class="d2">resourceowne...</span><span class="d3">06 Jun. 23</span><span class="d4">£1.6</span><span class="d5">▲</span><span class="d6"></span></div>
<div class="r4" style="top:583.9px"><span class="d1">mavhoygegkldgeoam-linkroso...</span><span class="d2">resourceowne...</span><span class="d3">06 Jun. 23</span><span class="d4">£1.6</span><span class="d5">▲</span><span class="d6"></span></div>
<div class="r4" style="top:595.2px"><span class="d1">eebygegkldgeoam-linkrosof...</span><span class="d2">resourceowne...</span><span class="d3">06 Jun. 23</span><span class="d4">£1.6</span><span class="d5">▲</span><span class="d6"></span></div>
<div class="r4" style="top:606.5px"><span class="d1">mnoev7jsamgeosta-linkrosoft...</span><span class="d2">resourceowne...</span><span class="d3">17 Apr. 23</span><span class="d4">£1.6</span><span class="d5">▲</span><span class="d6"></span></div>
<div class="r4" style="top:617.8px"><span class="d1">rm-sandoxbhs-dcuo7h7f6o...</span><span class="d2">resourceowne...</span><span class="d3">01 Dec. 22</span><span class="d4">£1.6</span><span class="d5">▲</span><span class="d6" style="color:#e4505f">115%</span></div>
<div class="a" style="left:506px;top:555px;width:2.5px;height:9px;background:#999;border-radius:1px"></div>

</body></html>
